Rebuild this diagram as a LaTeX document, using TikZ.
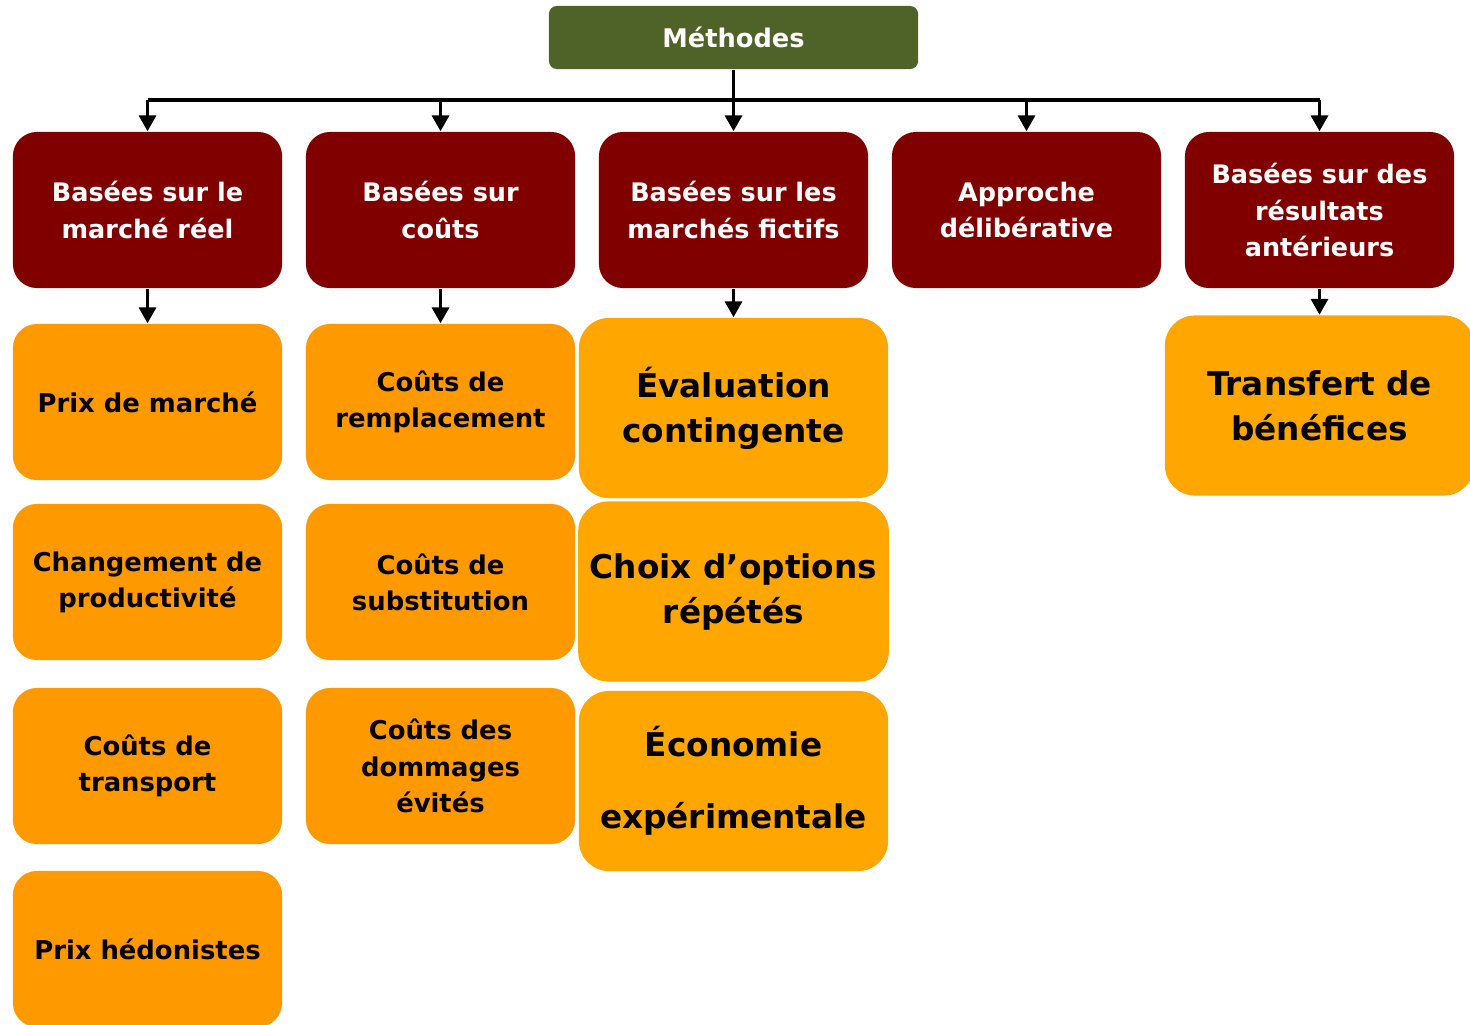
\documentclass[tikz,border=0pt]{standalone}
\usepackage{fontspec}
\setmainfont{DejaVu Sans}
\usetikzlibrary{positioning,calc,arrows.meta}
\definecolor{methgreen}{HTML}{4F6228}
\definecolor{basered}{HTML}{800000}
\definecolor{techorange}{HTML}{FF9900}
\definecolor{bigorange}{HTML}{FFA600}

\begin{document}
\begin{tikzpicture}[x=0.01cm,y=-0.01cm,>={Triangle[length=4.5pt,width=4.8pt]},
		methodes/.style={rectangle,rounded corners=0.08cm,fill=methgreen,text=white,
			minimum width=3.69cm,minimum height=0.63cm,
			font=\bfseries\fontsize{7.3}{9}\selectfont},
		famille/.style={rectangle,rounded corners=0.24cm,fill=basered,text=white,align=center,
			minimum width=2.69cm,minimum height=1.56cm,
			font=\bfseries\fontsize{7.25}{10.5}\selectfont},
		technique/.style={rectangle,rounded corners=0.24cm,fill=techorange,text=black,align=center,
			minimum width=2.69cm,minimum height=1.56cm,
			font=\bfseries\fontsize{7.35}{10.3}\selectfont},
		grande/.style={rectangle,rounded corners=0.3cm,fill=bigorange,text=black,align=center,
			minimum width=3.09cm,minimum height=1.8cm,
			font=\bfseries\fontsize{9.3}{12.8}\selectfont},
		lien/.style={line width=0.95pt},
	]
	\useasboundingbox (0,0) rectangle (1470,1024);

	\node[methodes] (meth) at (733.5,37.5) {Méthodes};
	\coordinate (bus) at (733.5,100);

	% familles de methodes
	\node[famille] (reel)   at (147.5,210)  {Basées sur le\\marché réel};
	\node[famille] (couts)  at (440.5,210)  {Basées sur\\coûts};
	\node[famille] (fictif) at (733.5,210)  {Basées sur les\\marchés fictifs};
	\node[famille] (delib)  at (1026.5,210) {Approche\\délibérative};
	\node[famille] (ante)   at (1319.5,210) {Basées sur des\\résultats\\antérieurs};

	% techniques
	\node[technique] (prix)   at (147.5,402) {Prix de marché};
	\node[technique] (prod)   at (147.5,582) {Changement de\\productivité};
	\node[technique] (transp) at (147.5,766) {Coûts de\\transport};
	\node[technique] (hedon)  at (147.5,949) {Prix hédonistes};

	\node[technique] (rempl)  at (440.5,402) {Coûts de\\remplacement};
	\node[technique] (subst)  at (440.5,582) {Coûts de\\substitution};
	\node[technique] (dommag) at (440.5,766) {Coûts des\\dommages\\évités};

	\node[grande] (conting) at (733.5,408)   {Évaluation\\contingente};
	\node[grande] (choix)   at (733.5,591.5) {Choix d’options\\répétés};
	\node[grande] (econ)    at (733.5,781)   {Économie\\[7.7pt]expérimentale};

	\node[grande] (transf)  at (1319.5,405.5) {Transfert de\\bénéfices};

	\draw[lien] (bus -| reel) -- (bus -| ante);
	\path[->,lien]
		(meth) edge (fictif)
		(bus -| reel) edge (reel)
		(bus -| couts) edge (couts)
		(bus -| delib) edge (delib)
		(bus -| ante) edge (ante)
		(reel) edge (prix)
		(couts) edge (rempl)
		(fictif) edge (conting)
		(ante) edge (transf)
	;
\end{tikzpicture}
\end{document}
